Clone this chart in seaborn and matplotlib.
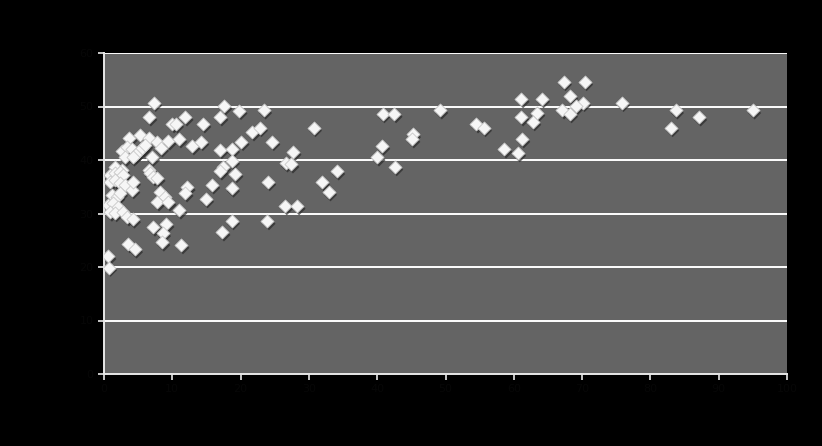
import matplotlib
matplotlib.use("Agg")
import matplotlib.pyplot as plt
import matplotlib.transforms as mtransforms
import seaborn as sns
import pandas as pd

x_values = [7.3, 6.6, 5.3, 3.7, 6.6, 7.8, 9.4, 8.3, 2.6, 3.4, 4.1, 4.5, 5.0, 5.6, 6.0,
            3.1, 4.2, 7.0, 1.6, 2.6, 6.6, 0.9, 1.6, 2.3, 2.8, 0.9, 1.6, 2.3, 3.1, 4.1,
            4.2, 6.7, 7.2, 7.8, 1.2, 1.9, 2.3, 0.6, 1.3, 2.0, 0.9, 1.6, 2.8, 3.4, 4.2,
            8.2, 8.9, 7.8, 9.4, 7.2, 9.1, 8.6, 8.5, 3.5, 4.5, 0.6, 0.7, 10.0, 10.5, 11.9,
            11.3, 11.0, 11.0, 12.2, 11.9, 12.9, 14.2, 14.5, 17.6, 19.8, 23.4, 17.0, 21.7,
            22.8, 17.0, 18.7, 20.1, 24.6, 27.7, 26.6, 27.4, 18.7, 17.4, 17.0, 19.2, 24.0,
            15.8, 18.7, 14.9, 26.5, 28.3, 18.7, 23.9, 17.3, 30.7, 40.8, 42.5, 49.2, 45.2,
            45.1, 40.7, 40.0, 42.6, 34.1, 31.9, 32.9, 54.5, 55.6, 61.1, 64.1, 67.3, 70.4,
            68.2, 70.1, 69.1, 67.1, 68.2, 61.1, 63.4, 62.8, 61.2, 58.6, 60.6, 75.8, 83.7,
            87.1, 83.0, 95.0]
y_values = [50.7, 48.0, 44.7, 44.1, 44.1, 43.4, 43.5, 42.2, 41.7, 42.4, 42.0, 40.9, 41.5,
            42.2, 42.8, 40.5, 40.5, 40.5, 38.7, 38.1, 38.1, 37.2, 37.5, 37.7, 37.2, 35.9,
            36.2, 35.7, 35.3, 34.4, 35.9, 37.5, 36.8, 36.6, 33.4, 33.1, 33.8, 31.6, 31.9,
            31.2, 30.2, 30.1, 30.2, 29.3, 28.9, 34.0, 33.1, 32.1, 32.1, 27.4, 28.0, 26.3,
            24.6, 24.3, 23.3, 22.0, 19.9, 46.7, 46.7, 48.0, 24.1, 43.9, 30.6, 34.9, 33.8,
            42.6, 43.4, 46.7, 50.1, 49.2, 49.3, 48.0, 45.2, 46.0, 41.9, 42.0, 43.4, 43.4,
            41.5, 39.4, 39.2, 39.8, 38.7, 37.9, 37.4, 35.9, 35.3, 34.7, 32.7, 31.4, 31.4,
            28.6, 28.6, 26.5, 46.0, 48.6, 48.6, 49.3, 44.8, 43.9, 42.6, 40.5, 38.7, 37.9,
            35.9, 34.0, 46.7, 46.0, 51.4, 51.4, 54.6, 54.6, 52.0, 50.7, 50.1, 49.3, 48.6,
            48.0, 48.8, 47.1, 43.9, 42.0, 41.3, 50.7, 49.3, 48.0, 46.0, 49.3]
x_ticks = [0, 10, 20, 30, 40, 50, 60, 70, 80, 90, 100]
y_ticks = [0, 10, 20, 30, 40, 50, 60]

df = pd.DataFrame({"x": x_values, "y": y_values})

sns.set_style("dark")
fig = plt.figure(figsize=(8.22, 4.46), dpi=100, facecolor="black")
ax = fig.add_axes([104 / 822, 1 - 374 / 446, (787 - 104) / 822, (374 - 53) / 446])
ax.set_facecolor("#646464")

for yt in y_ticks[1:]:
    ax.axhline(yt, color="white", lw=1.4, zorder=1)

shadow = mtransforms.offset_copy(ax.transData, fig=fig, x=1.3, y=-2.0, units="points")
sns.scatterplot(data=df, x="x", y="y", marker="D", s=44, color="#2a2a2a",
                edgecolor="none", alpha=0.7, ax=ax, transform=shadow, zorder=2, legend=False)
sns.scatterplot(data=df, x="x", y="y", marker="D", s=44, color="#f6f6f6",
                edgecolor="#c8c8c8", linewidth=0.6, ax=ax, zorder=3, legend=False)

ax.set_xlim(0, 100)
ax.set_ylim(0, 60)
ax.set_xticks(x_ticks)
ax.set_yticks(y_ticks)
ax.set_xlabel("")
ax.set_ylabel("")
ax.grid(False)
for side in ["top", "right"]:
    ax.spines[side].set_visible(False)
for side in ["left", "bottom"]:
    ax.spines[side].set_visible(True)
    ax.spines[side].set_color("#e8e8e8")
    ax.spines[side].set_linewidth(1.4)
ax.tick_params(axis="both", direction="out", length=4, width=1.2, color="#e8e8e8",
               labelcolor="#070707", labelsize=8, bottom=True, left=True)

fig.savefig("out.png", dpi=100, facecolor="black")
